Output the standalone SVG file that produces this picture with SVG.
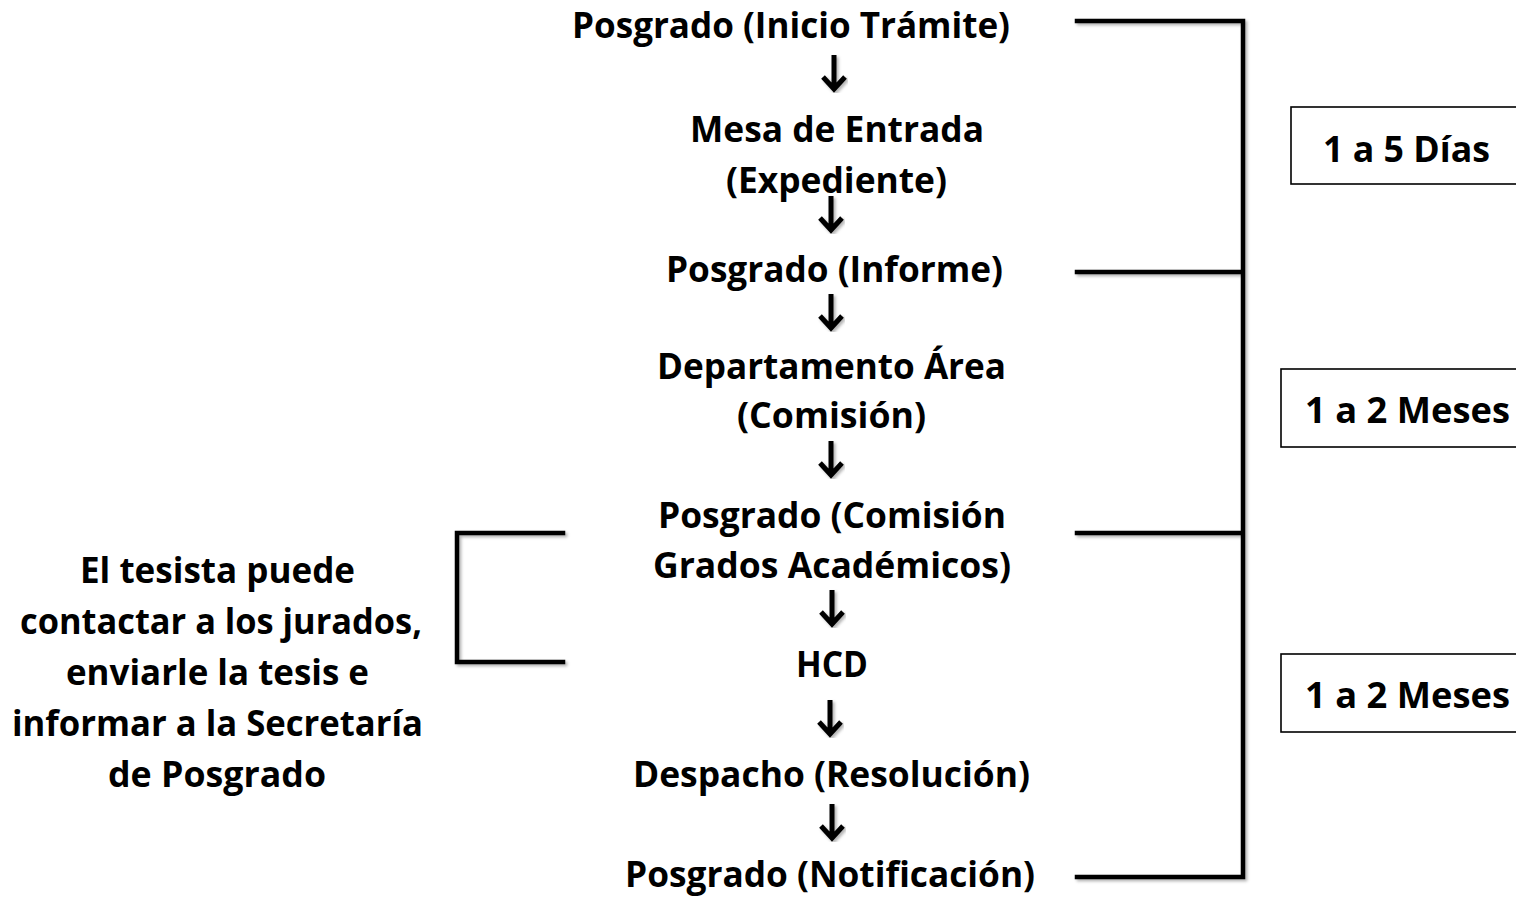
<svg xmlns="http://www.w3.org/2000/svg" width="1516" height="898" viewBox="0 0 1516 898">
<defs>
<filter id="sh" x="-10%" y="-10%" width="120%" height="120%">
<feDropShadow dx="2" dy="2" stdDeviation="1.5" flood-color="#000" flood-opacity="0.3"/>
</filter>
<path id="arr" d="M0,0 V34 M-11,22 L0,34 L11,22"/>
</defs>
<style>
text{font-family:"Open Sans",Lato,"Liberation Sans",sans-serif;font-weight:bold;font-size:35.5px;fill:#000;}
.br{fill:none;stroke:#000;stroke-width:4.5;stroke-linecap:square;filter:url(#sh);}
.ar{fill:none;stroke:#000;stroke-width:5;filter:url(#sh);}
.box{fill:#fff;stroke:#000;stroke-width:1.6;}
</style>
<rect width="1516" height="898" fill="#fff"/>
<g id="n1"><text x="572" y="38" textLength="438" lengthAdjust="spacingAndGlyphs">Posgrado (Inicio Trámite)</text></g>
<g id="n2"><text x="690" y="142" textLength="294" lengthAdjust="spacingAndGlyphs">Mesa de Entrada</text><text x="726" y="193" textLength="221" lengthAdjust="spacingAndGlyphs">(Expediente)</text></g>
<g id="n3"><text x="666" y="282" textLength="337" lengthAdjust="spacingAndGlyphs">Posgrado (Informe)</text></g>
<g id="n4"><text x="657" y="379" textLength="349" lengthAdjust="spacingAndGlyphs">Departamento Área</text><text x="737" y="428" textLength="189" lengthAdjust="spacingAndGlyphs">(Comisión)</text></g>
<g id="n5"><text x="658" y="528" textLength="348" lengthAdjust="spacingAndGlyphs">Posgrado (Comisión</text><text x="653" y="578" textLength="358" lengthAdjust="spacingAndGlyphs">Grados Académicos)</text></g>
<g id="n6"><text x="796" y="677" textLength="72" lengthAdjust="spacingAndGlyphs">HCD</text></g>
<g id="n7"><text x="633" y="787" textLength="397" lengthAdjust="spacingAndGlyphs">Despacho (Resolución)</text></g>
<g id="n8"><text x="625" y="887" textLength="410" lengthAdjust="spacingAndGlyphs">Posgrado (Notificación)</text></g>
<g id="note"><text x="80" y="583" textLength="275" lengthAdjust="spacingAndGlyphs">El tesista puede</text><text x="20" y="634" textLength="402" lengthAdjust="spacingAndGlyphs">contactar a los jurados,</text><text x="66" y="685" textLength="303" lengthAdjust="spacingAndGlyphs">enviarle la tesis e</text><text x="12" y="736" textLength="411" lengthAdjust="spacingAndGlyphs">informar a la Secretaría</text><text x="108" y="787" textLength="218" lengthAdjust="spacingAndGlyphs">de Posgrado</text></g>
<g id="t1"><rect class="box" x="1291" y="107" width="240" height="77"/><text x="1323" y="162" textLength="167" lengthAdjust="spacingAndGlyphs">1 a 5 Días</text></g>
<g id="t2"><rect class="box" x="1281" y="369" width="250" height="78"/><text x="1305" y="423" textLength="205" lengthAdjust="spacingAndGlyphs">1 a 2 Meses</text></g>
<g id="t3"><rect class="box" x="1281" y="654" width="250" height="78"/><text x="1305" y="708" textLength="205" lengthAdjust="spacingAndGlyphs">1 a 2 Meses</text></g>
<g id="connectors">
<use href="#arr" class="ar" x="834" y="55"/>
<use href="#arr" class="ar" x="831" y="196"/>
<use href="#arr" class="ar" x="831" y="294"/>
<use href="#arr" class="ar" x="831" y="441"/>
<use href="#arr" class="ar" x="832" y="590"/>
<use href="#arr" class="ar" x="830" y="700"/>
<use href="#arr" class="ar" x="832" y="804"/>
<path class="br" d="M1077,21 H1243 V877 H1077 M1077,272 H1243 M1077,533 H1243"/>
<path class="br" d="M563,533 H457 V662 H563"/>
</g>
</svg>
